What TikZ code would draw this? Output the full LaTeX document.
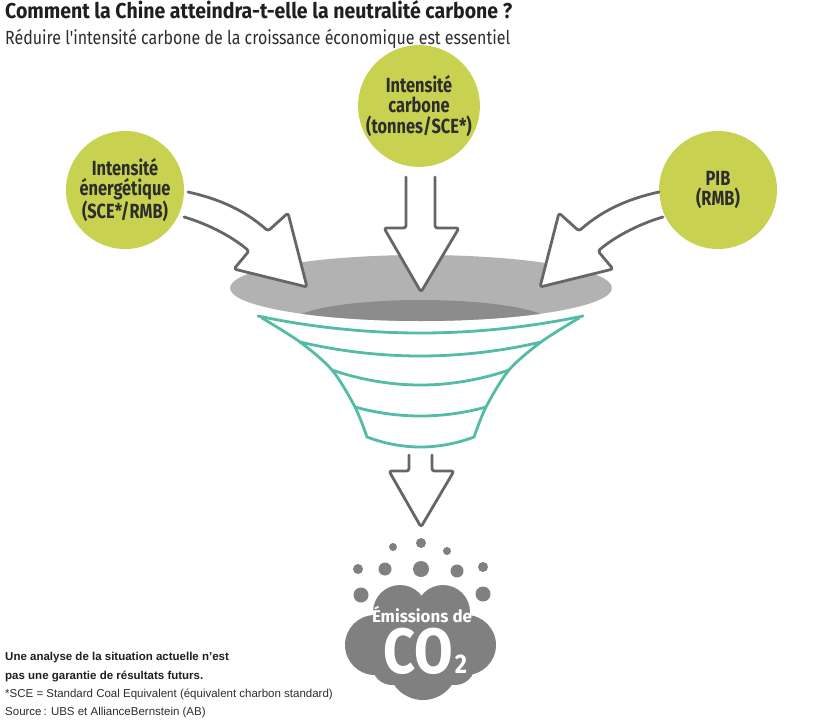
\documentclass[tikz,border=0pt]{standalone}
\usepackage{fontspec}
\usepackage{graphicx}
\setmainfont{Fira Sans}
\newfontfamily\condf[FakeStretch=0.8]{Fira Sans}
\newfontfamily\subf[Ligatures=TeXOff]{Fira Sans}
\newfontfamily\footf{Liberation Sans}
\definecolor{lime}{RGB}{200,209,80}
\definecolor{txtc}{RGB}{45,45,45}
\definecolor{arrowgray}{RGB}{102,102,102}
\definecolor{rimlight}{RGB}{178,178,178}
\definecolor{rimdark}{RGB}{140,140,140}
\definecolor{tealc}{RGB}{84,187,166}
\definecolor{cloudc}{RGB}{128,128,128}
\tikzset{
  bubble/.style={circle, fill=lime, minimum size=118pt, inner sep=0pt, align=center,
    text=txtc, font=\condf\bfseries\fontsize{20.5}{20.5}\selectfont},
  fatarrow/.style={draw=arrowgray, line width=2.8pt, fill=white, rounded corners=2.5pt,
    line join=round, line cap=round},
  funnel/.style={draw=tealc, line width=2.8pt, line cap=round, line join=round},
  dot/.style={fill=cloudc},
  foot/.style={anchor=base west, inner sep=0pt, font=\footf\fontsize{11.5}{13}\selectfont, text=txtc}
}
\begin{document}
\begin{tikzpicture}[x=1pt,y=-1pt]
\useasboundingbox[fill=white] (0,0) rectangle (840,720);

% titles
\node[anchor=base west, inner sep=0pt, text=black!88] (title) at (5,19)
  {\resizebox{507pt}{\height}{\condf\bfseries\fontsize{21.5}{24}\selectfont Comment la Chine atteindra-t-elle la neutralité carbone ?}};
\node[anchor=base west, inner sep=0pt, text=txtc] (subtitle) at (5,44)
  {\resizebox{505pt}{\height}{\subf\fontsize{19}{22}\selectfont Réduire l'intensité carbone de la croissance économique est essentiel}};

% input circles
\node[bubble] (energie) at (125,190) {Intensité\\énergétique\\(SCE*/RMB)};
\node[bubble] (carbone) at (419,106) {Intensité\\carbone\\(tonnes/SCE*)};
\node[bubble] (pib) at (718,190) {PIB\\(RMB)};

% funnel mouth
\fill[rimlight] (421,288) ellipse [x radius=191, y radius=33];
\begin{scope}
  \clip (421,288) ellipse [x radius=191, y radius=33];
  \fill[rimdark] (421,323) ellipse [x radius=130, y radius=23];
\end{scope}

% funnel body
\draw[funnel] (258,316) parabola bend (420.5,333) (583,316);
\draw[funnel] (300,342) parabola bend (420.5,356) (541,342);
\draw[funnel] (332,370) parabola bend (420.5,385) (509,370);
\draw[funnel] (355,407) parabola bend (420.5,416) (486,407);
\draw[funnel] (367,437) parabola bend (420.5,447) (474,437);
\draw[funnel] plot[smooth] coordinates {(262,318) (300,342) (332,370) (355,407) (367,437)};
\draw[funnel] plot[smooth] coordinates {(579,318) (541,342) (509,370) (486,407) (474,437)};

% big arrows
\path[fatarrow] (406,177) -- (406,228) -- (384,228) -- (421,292) -- (459,228) -- (435,228) -- (435,177);
\path[fatarrow] (188,192) .. controls (215,198) and (242,208) .. (268,231) -- (288,213) -- (307,287)
  -- (234,269) -- (249,251) .. controls (230,235) and (205,223) .. (184,217);
\path[fatarrow] (659,192) .. controls (632,198) and (605,208) .. (579,231) -- (559,213) -- (540,287)
  -- (613,269) -- (598,251) .. controls (617,235) and (642,223) .. (663,217);
\path[fatarrow] (409,455) -- (409,471) -- (389,471) -- (421,527) -- (454,471) -- (432,471) -- (432,455);

% dots
\fill[dot] (421,543) circle [radius=5];
\fill[dot] (393,547) circle [radius=4];
\fill[dot] (447,551) circle [radius=4];
\fill[dot] (358,569) circle [radius=5];
\fill[dot] (385,569) circle [radius=6.5];
\fill[dot] (421,569) circle [radius=8];
\fill[dot] (457,571) circle [radius=6.5];
\fill[dot] (483,567) circle [radius=5];
\fill[dot] (361,595) circle [radius=7.5];
\fill[dot] (483,594) circle [radius=7.5];

% cloud
\fill[cloudc] (400,612) circle [radius=27] (443,612) circle [radius=27]
  (375,645) circle [radius=30] (466,645) circle [radius=30]
  (423,665) circle [radius=35] (392,665) circle [radius=20] (455,665) circle [radius=20]
  (421,640) circle [radius=40];
\node[anchor=base, inner sep=0pt, text=white] (emis) at (422,622)
  {\resizebox{100pt}{\height}{\condf\bfseries\fontsize{17}{20}\selectfont Émissions de}};
\node[anchor=base, inner sep=0pt, text=white] (co2) at (425,673)
  {\resizebox{84pt}{\height}{\condf\bfseries\fontsize{64}{64}\selectfont CO\kern2pt{\fontsize{27}{27}\selectfont 2}}};

% footer
\node[foot, font=\footf\bfseries\fontsize{11.5}{13}\selectfont, text=black!88] (f1) at (5,660.5) {Une analyse de la situation actuelle n’est};
\node[foot, font=\footf\bfseries\fontsize{11.5}{13}\selectfont, text=black!88] (f2) at (5,679) {pas une garantie de résultats futurs.};
\node[foot] (f3) at (5,697) {*SCE = Standard Coal Equivalent (équivalent charbon standard)};
\node[foot] (f4) at (5,715.5) {Source\,: UBS et AllianceBernstein (AB)};
\end{tikzpicture}
\end{document}
